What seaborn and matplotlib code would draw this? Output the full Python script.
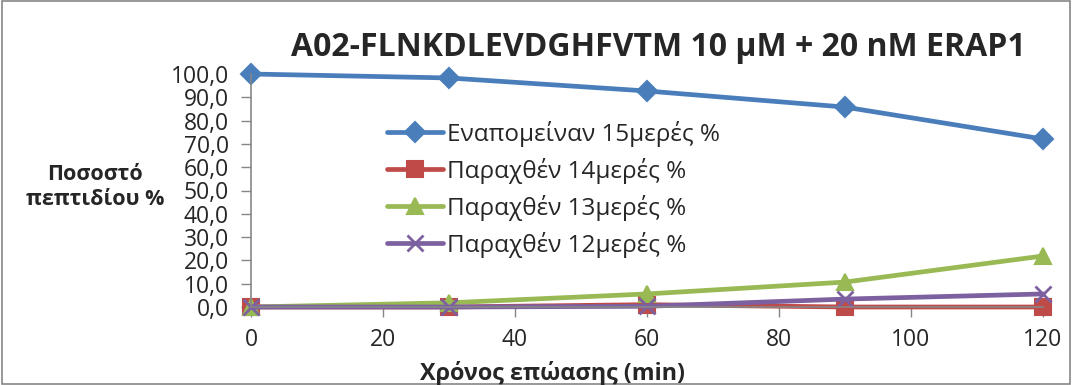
import matplotlib
matplotlib.use("Agg")
import matplotlib.pyplot as plt
import seaborn as sns
import pandas as pd
from matplotlib.patches import Rectangle

time_min = [0, 30, 60, 90, 120]
remaining_15mer = [100.0, 98.3, 92.7, 85.8, 72.1]
produced_14mer = [0.0, 0.0, 1.0, 0.0, 0.0]
produced_13mer = [0.0, 1.8, 5.6, 10.7, 21.9]
produced_12mer = [0.0, 0.0, 0.3, 3.4, 5.6]

series_names = ["Εναπομείναν 15μερές %", "Παραχθέν 14μερές %",
                "Παραχθέν 13μερές %", "Παραχθέν 12μερές %"]
series_values = [remaining_15mer, produced_14mer, produced_13mer, produced_12mer]
colors = ["#4A7EBB", "#BE4B48", "#98B954", "#7D60A0"]
markers = ["D", "s", "^", "x"]
msizes = [10, 12, 12, 12]

yticks = [0, 10, 20, 30, 40, 50, 60, 70, 80, 90, 100]
ytick_labels = ["0,0", "10,0", "20,0", "30,0", "40,0", "50,0", "60,0", "70,0", "80,0", "90,0", "100,0"]
xticks = [0, 20, 40, 60, 80, 100, 120]

title = "A02-FLNKDLEVDGHFVTM 10 μM + 20 nM ERAP1"
xlabel = "Χρόνος επώασης (min)"
ylabel = "Ποσοστό\nπεπτιδίου %"

sns.set_theme(style="white")
plt.rcParams["font.family"] = ["Open Sans", "DejaVu Sans"]

fig = plt.figure(figsize=(10.72, 3.85), dpi=100)
ax = fig.add_axes([251/1072, 1 - 307/385, (1043 - 251)/1072, (307 - 74)/385])

for name, vals, c, m, ms in zip(series_names, series_values, colors, markers, msizes):
    df = pd.DataFrame({"t": time_min, "v": vals})
    sns.lineplot(data=df, x="t", y="v", ax=ax, color=c, linewidth=3.4,
                 marker=m, markersize=ms, markeredgecolor=c,
                 markeredgewidth=1.5 if m != "x" else 2.0,
                 label=name, clip_on=False)

ax.set_xlim(0, 120)
ax.set_ylim(0, 100)
ax.set_xticks(xticks)
ax.set_xticklabels([str(x) for x in xticks], fontsize=16.5)
ax.set_yticks(yticks)
ax.set_yticklabels(ytick_labels, fontsize=16.5)
ax.tick_params(axis="both", direction="out", length=7, width=1, color="#868686",
               left=True, bottom=True)
ax.tick_params(axis="y", pad=9)
ax.tick_params(axis="x", pad=8)
for s in ["top", "right"]:
    ax.spines[s].set_visible(False)
for s in ["left", "bottom"]:
    ax.spines[s].set_color("#868686")
    ax.spines[s].set_linewidth(1.2)

ax.set_xlabel("")
ax.set_ylabel("")
fig.text(553/1072, 1 - 373/385, xlabel, fontsize=16.8, fontweight="bold",
         ha="center", va="center")
fig.text(95/1072, 1 - 187/385, ylabel, fontsize=15.5, fontweight="bold",
         ha="center", va="center", linespacing=1.25)
fig.text(658/1072, 1 - 48/385, title, fontsize=23, fontweight="bold",
         ha="center", va="center")

leg = ax.legend(loc="upper left", bbox_to_anchor=(0.16, 0.84), frameon=False,
                fontsize=17.5, handlelength=2.3, handletextpad=0.15, labelspacing=0.45,
                borderaxespad=0)

fig.patches.append(Rectangle((0.002, 0.002), 0.996, 0.996, transform=fig.transFigure,
                             fill=False, edgecolor="#868686", linewidth=1.2))

fig.savefig("out.png", dpi=100)
